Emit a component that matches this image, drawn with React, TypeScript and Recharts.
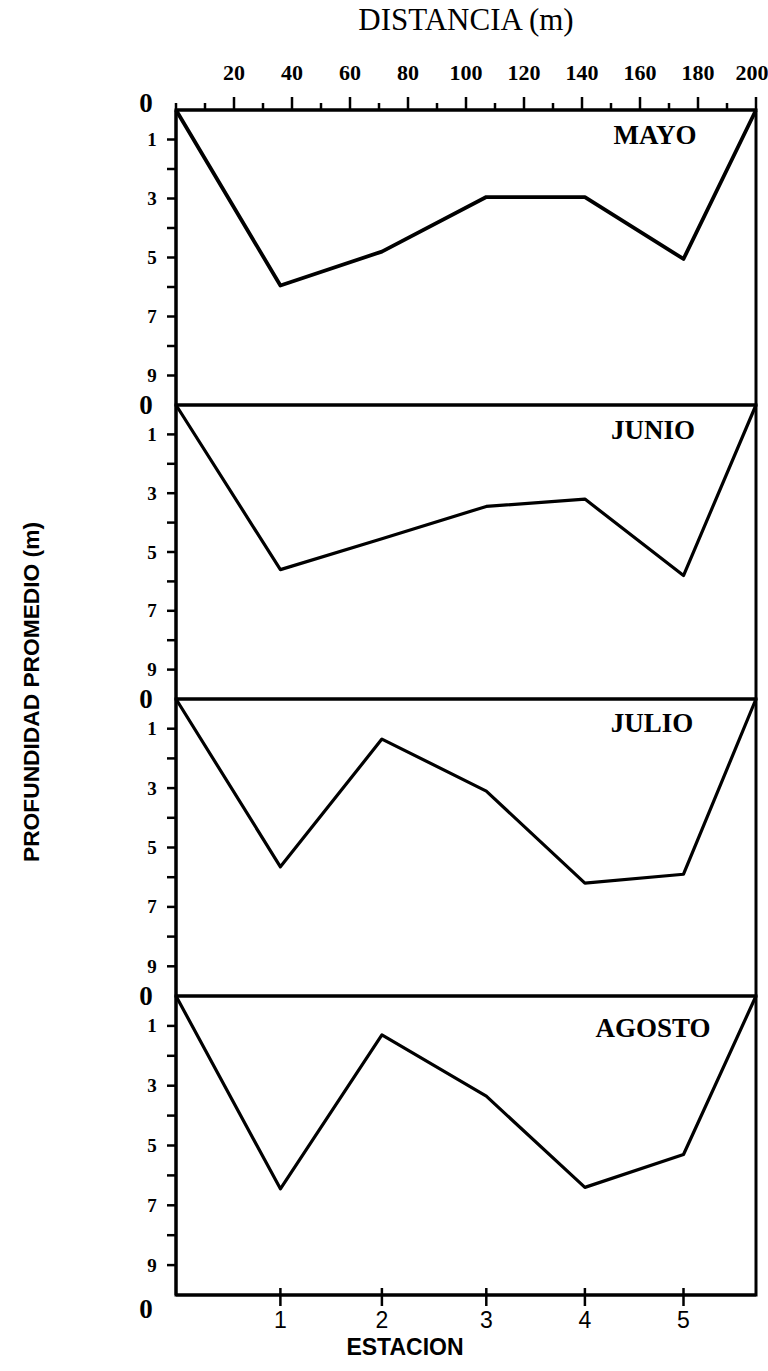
import React from "react";
import { LineChart, Line, XAxis, YAxis, ReferenceArea } from "recharts";

// distancia a lo largo del transecto (m): orilla, estaciones 1-5, orilla
const distancia = [0, 36, 71, 107, 141, 175, 200];
const estaciones = ["1", "2", "3", "4", "5"];
const distEstaciones = [36, 71, 107, 141, 175];
const marcasDistancia = [0, 10, 20, 30, 40, 50, 60, 70, 80, 90, 100, 110, 120, 130, 140, 150, 160, 170, 180, 190, 200];
const marcasProfundidad = [0, 1, 2, 3, 4, 5, 6, 7, 8, 9, 10];

// profundidad promedio (m) en cada punto de distancia
const mayo = [0, 5.95, 4.8, 2.95, 2.95, 5.05, 0];
const junio = [0, 5.6, 4.55, 3.45, 3.2, 5.8, 0];
const julio = [0, 5.65, 1.35, 3.1, 6.2, 5.9, 0];
const agosto = [0, 6.45, 1.3, 3.35, 6.4, 5.3, 0];

const meses = ["MAYO", "JUNIO", "JULIO", "AGOSTO"];
const series = [mayo, junio, julio, agosto];

const W = 768;
const PLOT_LEFT = 176;
const PLOT_RIGHT = 756;
const TOPS = [110, 405, 699, 996];
const BOTTOM = 1297;
const LABEL_POS = [
  { x: 655, y: 135 },
  { x: 653, y: 430 },
  { x: 652, y: 723 },
  { x: 653, y: 1028 },
];

const SERIF = '"Liberation Serif", "Times New Roman", serif';
const SANS = '"Liberation Sans", Arial, sans-serif';

function DepthTick(props: any) {
  const { x, y, payload, first, last } = props;
  const v = payload.value;
  if (v === 0) {
    return (
      <text x={x - 30} y={y + (first ? -7 : 0)} textAnchor="middle" dominantBaseline="central"
        fontFamily={SERIF} fontWeight={700} fontSize={27} fill="#000">0</text>
    );
  }
  if (v === 10) {
    if (!last) return <g />;
    return (
      <text x={x - 30} y={y + 14} textAnchor="middle" dominantBaseline="central"
        fontFamily={SERIF} fontWeight={700} fontSize={27} fill="#000">0</text>
    );
  }
  return (
    <g>
      <line x1={x - 9} x2={x} y1={y} y2={y} stroke="#000" strokeWidth={2.5} />
      {v % 2 === 1 && (
        <text x={x - 24} y={y} textAnchor="middle" dominantBaseline="central"
          fontFamily={SERIF} fontWeight={700} fontSize={19} fill="#000">{v}</text>
      )}
    </g>
  );
}

function DistTick(props: any) {
  const { x, y, payload } = props;
  const v = payload.value;
  const major = v > 0 && v % 20 === 0;
  return (
    <g>
      <line x1={x} x2={x} y1={y} y2={y - (major ? 13 : 7)} stroke="#000" strokeWidth={2.5} />
      {major && (
        <text x={x - (v === 200 ? 4 : 0)} y={y - 30} textAnchor="middle"
          fontFamily={SERIF} fontWeight={700} fontSize={22} fill="#000">{v}</text>
      )}
    </g>
  );
}

function StationTick(props: any) {
  const { x, y, index } = props;
  return (
    <g>
      <line x1={x} x2={x} y1={y - 7} y2={y + 11} stroke="#000" strokeWidth={2.5} />
      <text x={x} y={y + 33} textAnchor="middle"
        fontFamily={SANS} fontSize={23} fill="#000">{estaciones[index]}</text>
    </g>
  );
}

function Panel({ idx }: { idx: number }) {
  const first = idx === 0;
  const last = idx === series.length - 1;
  const top = TOPS[idx];
  const bottom = last ? BOTTOM : TOPS[idx + 1];
  const padTop = first ? top - 2 : 20;
  const padBottom = last ? 68 : 20;
  const data = distancia.map((d, i) => ({ d, p: series[idx][i] }));

  return (
    <div style={{ position: "absolute", left: 0, top: top - padTop - 2 * Number(first) }}>
      <LineChart
        width={W}
        height={bottom - top + padTop + padBottom + 2 * Number(first)}
        data={data}
        margin={{ top: padTop, right: W - PLOT_RIGHT, bottom: padBottom, left: 0 }}
      >
        {first ? (
          <XAxis dataKey="d" type="number" domain={[0, 200]} orientation="top" height={2}
            ticks={marcasDistancia} interval={0} tickSize={0} tickMargin={0}
            axisLine={{ stroke: "#000", strokeWidth: 3 }}
            tick={(p: any) => <DistTick {...p} />} />
        ) : last ? (
          <XAxis dataKey="d" type="number" domain={[0, 200]} orientation="bottom" height={2}
            ticks={distEstaciones} interval={0} tickSize={0} tickMargin={0}
            axisLine={{ stroke: "#000", strokeWidth: 3 }}
            tick={(p: any) => <StationTick {...p} />} />
        ) : (
          <XAxis dataKey="d" type="number" domain={[0, 200]} hide />
        )}
        <YAxis type="number" domain={[0, 10]} reversed width={PLOT_LEFT}
          ticks={marcasProfundidad} interval={0} tickSize={0} tickMargin={0}
          axisLine={{ stroke: "#000", strokeWidth: 3 }}
          tick={(p: any) => <DepthTick {...p} first={first} last={last} />} />
        <ReferenceArea x1={0} x2={200} y1={0} y2={10} fill="none" fillOpacity={0}
          stroke="#000" strokeWidth={3} ifOverflow="visible" />
        <Line type="linear" dataKey="p" stroke="#000" strokeWidth={first ? 3.8 : 3.2}
          dot={false} isAnimationActive={false} strokeLinejoin="round" />
      </LineChart>
    </div>
  );
}

export default function App() {
  return (
    <div style={{ position: "absolute", left: 0, top: 0, width: W, height: 1371, background: "#fff", overflow: "hidden" }}>
      {series.map((_, i) => <Panel key={meses[i]} idx={i} />)}
      <svg width={W} height={1371} style={{ position: "absolute", left: 0, top: 0, pointerEvents: "none" }}>
        <text x={466} y={30} textAnchor="middle" fontFamily={SERIF} fontSize={31} fill="#000">DISTANCIA (m)</text>
        <text transform="translate(39 692) rotate(-90)" textAnchor="middle" fontFamily={SANS}
          fontWeight={700} fontSize={22} textLength={340} lengthAdjust="spacingAndGlyphs" fill="#000">
          PROFUNDIDAD PROMEDIO (m)
        </text>
        {meses.map((m, i) => (
          <text key={m} x={LABEL_POS[i].x} y={LABEL_POS[i].y} textAnchor="middle" dominantBaseline="central"
            fontFamily={SERIF} fontWeight={700} fontSize={27} fill="#000">{m}</text>
        ))}
        <text x={405} y={1355} textAnchor="middle" fontFamily={SANS} fontWeight={700} fontSize={23} fill="#000">ESTACION</text>
      </svg>
    </div>
  );
}
